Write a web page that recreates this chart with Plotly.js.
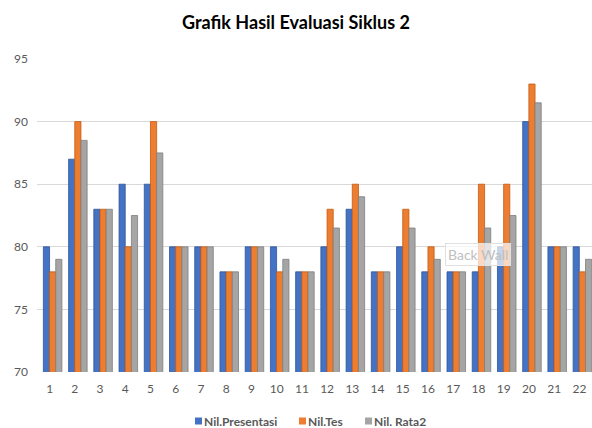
<!DOCTYPE html>
<html>
<head>
<meta charset="utf-8">
<script src="https://cdn.plot.ly/plotly-3.0.1.min.js"></script>
<style>html,body{margin:0;padding:0;background:#fff;}#chart{width:592px;height:428px;}</style>
</head>
<body>
<div id="chart"></div>
<script>
const categories = ["1","2","3","4","5","6","7","8","9","10","11","12","13","14","15","16","17","18","19","20","21","22"];
const nilPresentasi = [80,87,83,85,85,80,80,78,80,80,78,80,83,78,80,78,78,78,80,90,80,80];
const nilTes        = [78,90,83,80,90,80,80,78,80,78,78,83,85,78,83,80,78,85,85,93,80,78];
const nilRata2      = [79,88.5,83,82.5,87.5,80,80,78,80,79,78,81.5,84,78,81.5,79,78,81.5,82.5,91.5,80,79];
const seriesNames = ["Nil.Presentasi","Nil.Tes","Nil. Rata2"];
const colors = ["#4472C4","#ED7D31","#A5A5A5"];
const edges = ["#2F5597","#C55A11","#7F7F7F"];
const barWidth = 0.245;
const barOffsets = [-0.2475, -0.0025, 0.2425];

const traces = [nilPresentasi, nilTes, nilRata2].map((vals, i) => ({
  type: "bar",
  x: categories,
  y: vals,
  name: seriesNames[i],
  width: barWidth,
  offset: barOffsets[i],
  marker: {color: colors[i], line: {color: edges[i], width: 0.8}},
  hoverinfo: "skip"
}));

const layout = {
  width: 592, height: 428,
  margin: {l: 37, r: 0, t: 59, b: 56, autoexpand: false},
  paper_bgcolor: "#fff", plot_bgcolor: "#fff",
  font: {family: "Lato, 'Open Sans', sans-serif", color: "#595959", size: 12},
  title: {text: "<b>Grafik Hasil Evaluasi Siklus 2</b>", font: {family: "Lato, sans-serif", size: 18, color: "#000"}, x: 0.5, xanchor: "center", y: 0.947, yanchor: "middle"},
  barmode: "group",
  bargap: 0.28,
  bargroupgap: 0,
  showlegend: true,
  legend: {orientation: "h", x: 0.5, xanchor: "center", y: -0.157, yanchor: "middle", font: {size: 12, color: "#595959", weight: "bold"}, itemwidth: 30, tracegroupgap: 0},
  xaxis: {type: "category", range: [-0.5, 21.5], showgrid: false, zeroline: false, showline: false, ticks: "", tickfont: {size: 12, color: "#595959"}, ticklabelstandoff: 8, fixedrange: true},
  yaxis: {range: [70, 95], dtick: 5, tick0: 70, showgrid: true, gridcolor: "#D9D9D9", gridwidth: 1, zeroline: false, showline: false, ticks: "", tickfont: {size: 12, color: "#595959"}, ticklabelstandoff: 8},
  annotations: [{
    xref: "x", yref: "y", x: 17, y: 79.35, text: "Back Wall", showarrow: false,
    font: {size: 14, color: "#BFBFBF"}, bgcolor: "rgba(255,255,255,0.7)", bordercolor: "#E0E0E0", borderwidth: 1, borderpad: 2
  }]
};

// desired legend square centres (px) in the reference
const legendSquareX = [198.5, 302.5, 368.5];

Plotly.newPlot("chart", traces, layout, {displayModeBar: false, staticPlot: true}).then(gd => {
  const leg = gd.querySelector("g.legend");
  if (!leg) return;
  const m = /translate\(\s*([-\d.]+)[ ,]+([-\d.]+)/.exec(leg.getAttribute("transform") || "");
  const lx = m ? parseFloat(m[1]) : 0;
  const ly = m ? parseFloat(m[2]) : 0;
  const items = leg.querySelectorAll("g.traces");
  items.forEach((it, i) => {
    it.setAttribute("transform", `translate(${legendSquareX[i] - lx - 20},${421 - ly})`);
    it.querySelectorAll("path.legendundefined, g.legendpoints path").forEach(p => {
      p.setAttribute("d", "M3.5,3.5H-3.5V-3.5H3.5Z");
      p.style.strokeWidth = "0";
    });
    const t = it.querySelector("text.legendtext");
    if (t) t.setAttribute("x", 25.5);
  });
  const bg = leg.querySelector("rect.bg");
  if (bg) bg.style.display = "none";
});
</script>
</body>
</html>
